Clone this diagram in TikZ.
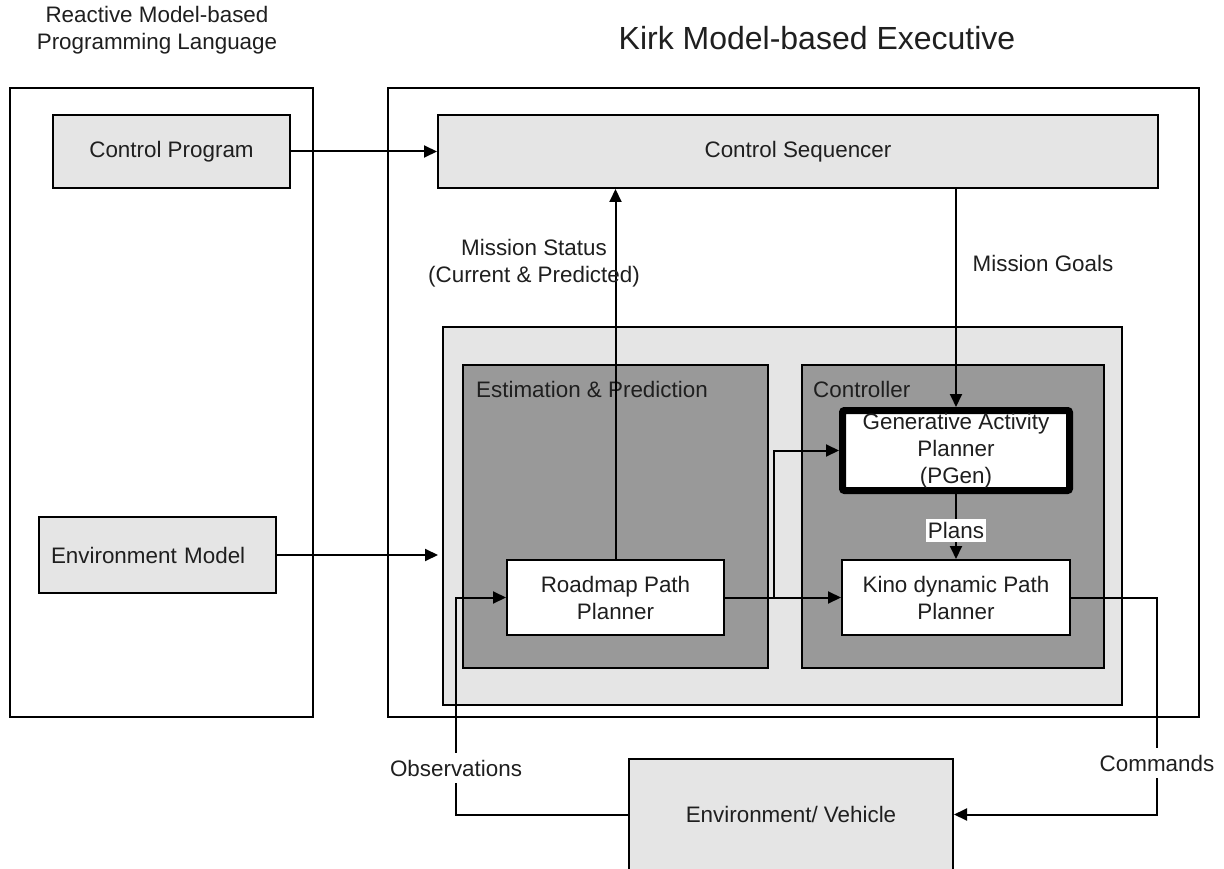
\documentclass[tikz,border=0pt]{standalone}
\usepackage{fontspec}
\setmainfont{Liberation Sans}
\usetikzlibrary{arrows.meta,calc}

\definecolor{paneLight}{gray}{0.90}
\definecolor{paneDark}{gray}{0.60}

\tikzset{
  txt/.style={font=\fontsize{22.4}{27}\selectfont, text=black!88},
  frame/.style={draw=black, line width=2pt, fill=white, inner sep=0pt, anchor=center},
  graybox/.style={frame, fill=paneLight, txt},
  darkbox/.style={frame, fill=paneDark},
  whitebox/.style={frame, fill=white, txt, align=center},
  wire/.style={draw=black, line width=2pt},
  arr/.style={wire, -{Triangle[length=13pt,width=12pt]}},
  tag/.style={txt, fill=white, inner xsep=2pt, inner ysep=4pt, align=center},
  plain/.style={txt, inner sep=0pt, align=center},
}

\begin{document}
\begin{tikzpicture}[x=1pt, y=-1pt]
  \useasboundingbox (0,0) rectangle (1224,869);
  \fill[white] (0,0) rectangle (1224,869);

  % headings
  \node[plain] (rmplTitle) at (157,30) {Reactive Model-based\\Programming Language};
  \node[plain, font=\fontsize{32}{38}\selectfont] (kirkTitle) at (817,38) {Kirk Model-based Executive};

  % outer frames
  \node[frame, minimum width=303pt, minimum height=629pt] (rmpl) at (161.5,402.5) {};
  \node[frame, minimum width=811pt, minimum height=629pt] (kirk) at (793.5,402.5) {};

  % language side
  \node[graybox, minimum width=237pt, minimum height=73pt] (prog) at (171.5,151.5) {Control Program};
  \node[graybox, text width=213pt, inner xsep=12pt, minimum height=76pt, align=left] (envmodel) at (157.5,555) {Environment Model};

  % executive
  \node[graybox, minimum width=720pt, minimum height=73pt] (seq) at (798,151.5) {Control Sequencer};
  \node[graybox, minimum width=679pt, minimum height=378pt] (core) at (782.5,516) {};
  \node[darkbox, minimum width=305pt, minimum height=303pt] (est) at (615.5,516.5) {};
  \node[darkbox, minimum width=302pt, minimum height=303pt] (ctrl) at (953,516.5) {};
  \node[plain, anchor=west] (estLabel) at (476,389) {Estimation \& Prediction};
  \node[plain, anchor=west] (ctrlLabel) at (813,389) {Controller};

  \node[whitebox, line width=7pt, rounded corners=2pt, minimum width=227pt, minimum height=80pt] (gen) at (956,450.5)
    {Generative Activity\\Planner\\(PGen)};
  \node[whitebox, minimum width=228pt, minimum height=75pt] (kino) at (956,597.5) {Kino dynamic Path\\Planner};
  \node[whitebox, minimum width=217pt, minimum height=75pt] (road) at (615.5,597.5) {Roadmap Path\\Planner};

  % plant
  \node[graybox, minimum width=324pt, minimum height=111pt] (plant) at (791,814.5) {Environment/ Vehicle};

  % routing points
  \coordinate (split) at (774,597.5);
  \coordinate (obsLane) at (456,700);
  \coordinate (cmdLane) at (1157,700);

  % connectors
  \draw[arr] (prog.east) -- (seq.west);
  \draw[arr] (envmodel.east) -- ([xshift=-4pt]envmodel.east -| core.west);
  \draw[arr] (road.north) -- (road.north |- seq.south);
  \draw[arr] (gen.north |- seq.south) -- (gen.north);
  \draw[arr] (road.east) -- (kino.west);
  \draw[arr] (split) |- (gen.west);
  \draw[arr] (gen.south) -- node[tag, pos=0.56, inner ysep=3pt] (plansTag) {Plans} (kino.north);
  \draw[arr] (plant.west) -- (obsLane |- plant.west) -- (obsLane |- road.west) -- (road.west);
  \draw[arr] (kino.east) -- (cmdLane |- kino.east) -- (cmdLane |- plant.east) -- (plant.east);

  % connector labels
  \node[plain] (statusTag) at (534,263.5) {Mission Status\\(Current \& Predicted)};
  \node[plain] (goalsTag) at (1043,263) {Mission Goals};
  \node[tag, inner ysep=7pt] (obsTag) at (456,768) {Observations};
  \node[tag, inner ysep=7pt] (cmdTag) at (1157,763) {Commands};
\end{tikzpicture}
\end{document}
